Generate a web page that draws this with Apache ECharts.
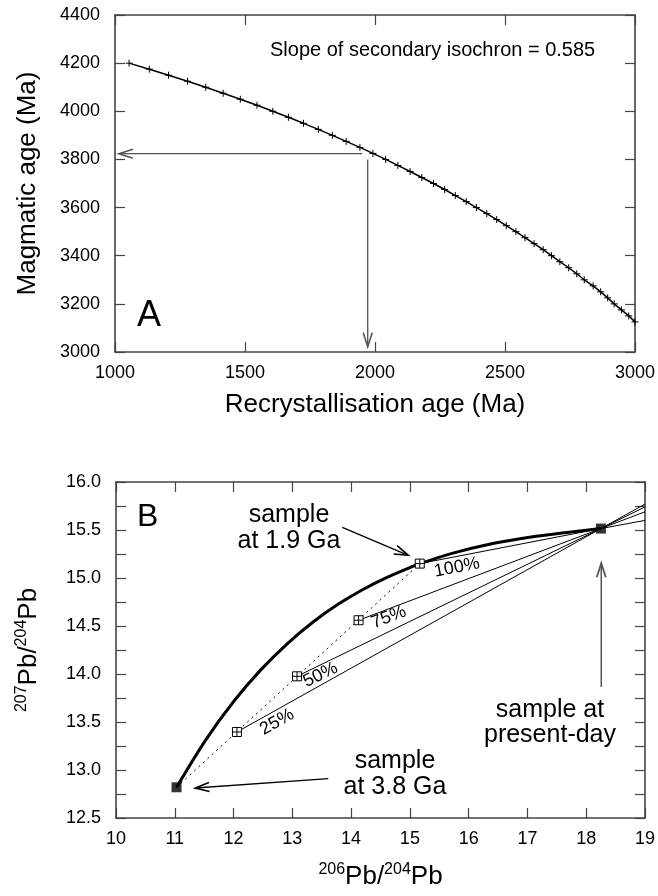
<!DOCTYPE html>
<html><head><meta charset="utf-8">
<script src="https://cdn.jsdelivr.net/npm/echarts@6/dist/echarts.min.js"></script>
<style>html,body{margin:0;padding:0;background:#fff}#c{width:658px;height:896px}</style>
</head><body><div id="c"></div>
<script>
// ---------- Panel A data ----------
const magmaticAge = [4200,4175,4150,4125,4100,4075,4050,4025,4000,3975,3950,3925,3900,3875,3850,3825,3800,3775,3750,3725,3700,3675,3650,3625,3600,3575,3550,3525,3500,3475,3450,3425,3400,3375,3350,3325,3300,3275,3250,3225,3200,3175,3150,3125];
const recrystAge  = [1054,1132,1206,1279,1349,1416,1482,1546,1607,1667,1725,1782,1836,1889,1942,1992,2041,2088,2135,2180,2225,2268,2309,2351,2390,2430,2468,2505,2542,2577,2612,2647,2679,2711,2745,2776,2805,2839,2868,2895,2920,2948,2976,3000];
// arrows: [x1, y1, x2(tip), y2(tip)]
const arrowsA = [[1951, 3824, 1015, 3824], [1972, 3800, 1972, 3022]];

// ---------- Panel B data ----------
const growthX = [11.03, 11.525, 12.005, 12.471, 12.922, 13.359, 13.783, 14.194, 14.593, 14.979, 15.168, 15.717, 16.41, 17.062, 17.674, 18.25];
const growthY = [12.82, 13.312, 13.716, 14.048, 14.32, 14.544, 14.728, 14.878, 15.002, 15.104, 15.148, 15.256, 15.359, 15.428, 15.475, 15.515];
const startPt = [11.03, 12.82];     // sample at 3.8 Ga
const presentPt = [18.25, 15.515];  // sample at present-day
const pctLabels = ['25%', '50%', '75%', '100%'];
const mixX = [12.058, 13.08, 14.127, 15.168];
const mixY = [13.396, 13.976, 14.56, 15.15];
const isoEndX = 19;
const isoEndY = [15.77, 15.74, 15.69, 15.60];
const pctLabelX = [12.74, 13.48, 14.64, 15.80];
const pctLabelY = [13.50, 13.99, 14.59, 15.11];
const arrowsBblack = [[13.85, 15.528, 14.973, 15.236], [13.612, 12.91, 11.349, 12.8125]];
const arrowsBgray = [[18.256, 13.865, 18.256, 15.153]];

const FONT = '"Liberation Sans", Arial, Helvetica, sans-serif';
const AX = '#444';

function xAx(grid, min, max, interval, pos, extra) {
  return Object.assign({
    gridIndex: grid, type: 'value', min: min, max: max, interval: interval, position: pos,
    axisLine: {show: true, onZero: false, lineStyle: {color: AX, width: 1.6}},
    axisTick: {show: true, inside: true, length: 10, lineStyle: {color: AX, width: 1.2}},
    axisLabel: {show: pos === 'bottom', margin: 12, fontSize: 18, color: '#000', fontFamily: FONT,
      formatter: v => String(v)},
    splitLine: {show: false}
  }, extra || {});
}
function yAx(grid, min, max, interval, pos, extra) {
  return Object.assign({
    gridIndex: grid, type: 'value', min: min, max: max, interval: interval, position: pos,
    axisLine: {show: true, onZero: false, lineStyle: {color: AX, width: 1.6}},
    axisTick: {show: true, inside: true, length: 10, lineStyle: {color: AX, width: 1.2}},
    axisLabel: {show: pos === 'left', margin: 15, fontSize: 18, color: '#000', fontFamily: FONT,
      formatter: v => String(v)},
    splitLine: {show: false}
  }, extra || {});
}

function arrowRender(color, width) {
  return function (params, api) {
    const p1 = api.coord([api.value(0), api.value(1)]);
    const p2 = api.coord([api.value(2), api.value(3)]);
    const ang = Math.atan2(p2[1] - p1[1], p2[0] - p1[0]);
    const L = 14, W = 4.5;
    const bx = p2[0] - L * Math.cos(ang), by = p2[1] - L * Math.sin(ang);
    const nx = -Math.sin(ang) * W, ny = Math.cos(ang) * W;
    return {type: 'group', children: [
      {type: 'polyline', shape: {points: [p1, p2]}, style: {stroke: color, lineWidth: width, fill: null}},
      {type: 'polyline', shape: {points: [[bx + nx, by + ny], p2, [bx - nx, by - ny]]}, style: {stroke: color, lineWidth: width + 0.3, fill: null}}
    ]};
  };
}

const supName = function (a, b) {
  return '{sup|' + a + '}{main|Pb/}{sup|' + b + '}{main|Pb}';
};
const nameRich = {
  main: {fontSize: 26, fontFamily: FONT, color: '#000', lineHeight: 30},
  sup: {fontSize: 16, fontFamily: FONT, color: '#000', verticalAlign: 'top', lineHeight: 30}
};

const series = [];
// Panel A curve with markers
series.push({
  type: 'line', xAxisIndex: 0, yAxisIndex: 0,
  data: recrystAge.map((x, i) => [x, magmaticAge[i]]),
  showSymbol: true, showAllSymbol: true,
  symbol: 'path://M5,0L5,10M0,5L10,5', symbolSize: 7,
  itemStyle: {color: '#000', borderColor: '#000', borderWidth: 1},
  lineStyle: {color: '#000', width: 1.5}, z: 3
});
series.push({
  type: 'custom', xAxisIndex: 0, yAxisIndex: 0, data: arrowsA,
  encode: {x: [0, 2], y: [1, 3]}, renderItem: arrowRender('#555', 1.3), z: 2
});
// Panel B growth curve
series.push({
  type: 'line', xAxisIndex: 2, yAxisIndex: 2,
  data: growthX.map((x, i) => [x, growthY[i]]),
  showSymbol: false, smooth: 0.3,
  lineStyle: {color: '#000', width: 3}, z: 3
});
// dotted mixing line
series.push({
  type: 'line', xAxisIndex: 2, yAxisIndex: 2,
  data: [startPt, [mixX[3], mixY[3]]], showSymbol: false,
  lineStyle: {color: '#000', width: 1, type: [2, 4]}, z: 2
});
// lines through present-day
for (let i = 0; i < mixX.length; i++) {
  series.push({
    type: 'line', xAxisIndex: 2, yAxisIndex: 2,
    data: [[mixX[i], mixY[i]], presentPt, [isoEndX, isoEndY[i]]], showSymbol: false,
    lineStyle: {color: '#000', width: 1}, z: 2
  });
}
// crossed squares
series.push({
  type: 'scatter', xAxisIndex: 2, yAxisIndex: 2,
  data: mixX.map((x, i) => [x, mixY[i]]),
  symbol: 'path://M0,0L10,0L10,10L0,10ZM5,0L5,10M0,5L10,5', symbolSize: 9,
  itemStyle: {color: '#fff', borderColor: '#000', borderWidth: 1, opacity: 1}, z: 5
});
// filled squares
series.push({
  type: 'scatter', xAxisIndex: 2, yAxisIndex: 2,
  data: [startPt, presentPt], symbol: 'rect', symbolSize: 10,
  itemStyle: {color: '#000'}, z: 6
});
series.push({
  type: 'custom', xAxisIndex: 2, yAxisIndex: 2, data: arrowsBblack,
  encode: {x: [0, 2], y: [1, 3]}, renderItem: arrowRender('#000', 1.3), z: 4
});
series.push({
  type: 'custom', xAxisIndex: 2, yAxisIndex: 2, data: arrowsBgray,
  encode: {x: [0, 2], y: [1, 3]}, renderItem: arrowRender('#555', 1.5), z: 4
});
// percentage labels rotated along lines
series.push({
  type: 'custom', xAxisIndex: 2, yAxisIndex: 2,
  data: pctLabelX.map((x, i) => [x, pctLabelY[i], i]),
  encode: {x: 0, y: 1},
  renderItem: function (params, api) {
    const i = api.value(2);
    const a = api.coord([mixX[i], mixY[i]]);
    const b = api.coord(presentPt);
    const ang = Math.atan2(a[1] - b[1], b[0] - a[0]);
    const p = api.coord([api.value(0), api.value(1)]);
    return {type: 'text', x: p[0], y: p[1], rotation: ang,
      style: {text: pctLabels[i], font: '18px ' + FONT, fill: '#000', align: 'center', verticalAlign: 'middle'}};
  }, z: 7
});

const option = {
  animation: false,
  backgroundColor: '#fff',
  grid: [
    {left: 115, top: 15, width: 528, height: 337},
    {left: 116, top: 482, width: 529, height: 336}
  ],
  xAxis: [
    xAx(0, 1000, 3000, 500, 'bottom', {name: 'Recrystallisation age (Ma)', nameLocation: 'middle', nameGap: 40,
      nameTextStyle: {fontSize: 26, color: '#000', fontFamily: FONT}}),
    xAx(0, 1000, 3000, 500, 'top'),
    xAx(1, 10, 19, 1, 'bottom', {name: supName('206', '204'), nameLocation: 'middle', nameGap: 44,
      nameTextStyle: {fontSize: 26, color: '#000', fontFamily: FONT, rich: nameRich}}),
    xAx(1, 10, 19, 1, 'top')
  ],
  yAxis: [
    yAx(0, 3000, 4400, 200, 'left', {name: 'Magmatic age (Ma)', nameLocation: 'middle', nameGap: 74, nameRotate: 90,
      nameTextStyle: {fontSize: 26, color: '#000', fontFamily: FONT}}),
    yAx(0, 3000, 4400, 200, 'right'),
    yAx(1, 12.5, 16, 0.25, 'left', {name: supName('207', '204'), nameLocation: 'middle', nameGap: 72, nameRotate: 90,
      nameTextStyle: {fontSize: 26, color: '#000', fontFamily: FONT, rich: nameRich},
      axisLabel: {show: true, margin: 15, fontSize: 18, color: '#000', fontFamily: FONT,
        formatter: v => (Math.round(v * 4) % 2 === 0 ? v.toFixed(1) : '')}}),
    yAx(1, 12.5, 16, 0.25, 'right')
  ],
  series: series,
  graphic: [
    {type: 'text', x: 270, y: 50, style: {text: 'Slope of secondary isochron = 0.585', font: '20px ' + FONT, fill: '#000', align: 'left', verticalAlign: 'middle'}},
    {type: 'text', x: 137, y: 316, style: {text: 'A', font: '36px ' + FONT, fill: '#000', align: 'left', verticalAlign: 'middle'}},
    {type: 'text', x: 137, y: 517, style: {text: 'B', font: '32px ' + FONT, fill: '#000', align: 'left', verticalAlign: 'middle'}},
    {type: 'text', x: 289, y: 528, style: {text: 'sample\nat 1.9 Ga', font: '25px ' + FONT, lineHeight: 26, fill: '#000', align: 'center', verticalAlign: 'middle'}},
    {type: 'text', x: 395, y: 774, style: {text: 'sample\nat 3.8 Ga', font: '25px ' + FONT, lineHeight: 26, fill: '#000', align: 'center', verticalAlign: 'middle'}},
    {type: 'text', x: 550, y: 723, style: {text: 'sample at\npresent-day', font: '25px ' + FONT, lineHeight: 25, fill: '#000', align: 'center', verticalAlign: 'middle'}}
  ]
};
const chart = echarts.init(document.getElementById('c'), null, {renderer: 'canvas'});
chart.setOption(option);
</script>
</body></html>
